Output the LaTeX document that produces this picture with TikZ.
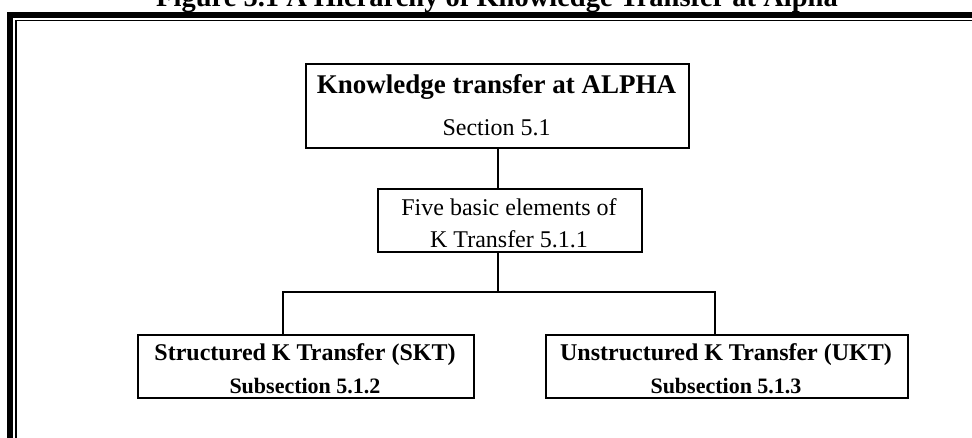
\documentclass[tikz,border=0pt]{standalone}
\usepackage{fontspec}
\setmainfont{Liberation Serif}
\begin{document}
\begin{tikzpicture}[x=1pt,y=-1pt,
  box/.style={draw, line width=1.8pt, inner sep=0pt, anchor=north west},
  link/.style={draw, line width=1.8pt},
  lbl/.style={anchor=base, inner sep=0pt},
  headfont/.style={font=\bfseries\fontsize{27}{30}\selectfont},
  bodyfont/.style={font=\fontsize{24}{28}\selectfont},
  subhead/.style={font=\bfseries\fontsize{24}{28}\selectfont},
  subnote/.style={font=\bfseries\fontsize{22}{26}\selectfont}]
\useasboundingbox (0,0) rectangle (972,437);

% page border: thick outer rule and thin inner rule
\begin{scope}
  \clip (0,0) rectangle (972,437);
  \draw[line width=6pt] (10.3,470) |- (1000,15);
  \draw[line width=1.5pt] (15.8,470) |- (1000,20.5);
\end{scope}

% caption
\node[lbl, font=\bfseries\fontsize{28.5}{32}\selectfont] (title) at (497,6.5)
  {Figure 5.1 A Hierarchy of Knowledge Transfer at Alpha};

% boxes
\node[box, minimum width=383pt, minimum height=84pt] (top) at (305,63) {};
\node[box, minimum width=264pt, minimum height=63pt] (mid) at (377,188) {};
\node[box, minimum width=336pt, minimum height=63pt] (skt) at (137,334) {};
\node[box, minimum width=362pt, minimum height=63pt] (ukt) at (545,334) {};

% box texts
\node[lbl, headfont] (topA) at (496.5,93) {Knowledge transfer at ALPHA};
\node[lbl, bodyfont] (topB) at (496.5,135) {Section 5.1};
\node[lbl, bodyfont] (midA) at (509,215) {Five basic elements of};
\node[lbl, bodyfont] (midB) at (509,247) {K Transfer 5.1.1};
\node[lbl, subhead] (sktA) at (305,360) {Structured K Transfer (SKT)};
\node[lbl, subnote] (sktB) at (305,393) {Subsection 5.1.2};
\node[lbl, subhead] (uktA) at (726,360) {Unstructured K Transfer (UKT)};
\node[lbl, subnote] (uktB) at (726,393) {Subsection 5.1.3};

% connectors
\coordinate (trunk) at (498,0);
\coordinate (busL) at (283,292);
\coordinate (busR) at (715,292);
\path[link] (trunk |- top.south) -- (trunk |- mid.north);
\path[link] (trunk |- mid.south) -- (trunk |- busL);
\path[link] (busL |- skt.north) -- (busL) -- (busR) -- (busR |- ukt.north);
\end{tikzpicture}
\end{document}
